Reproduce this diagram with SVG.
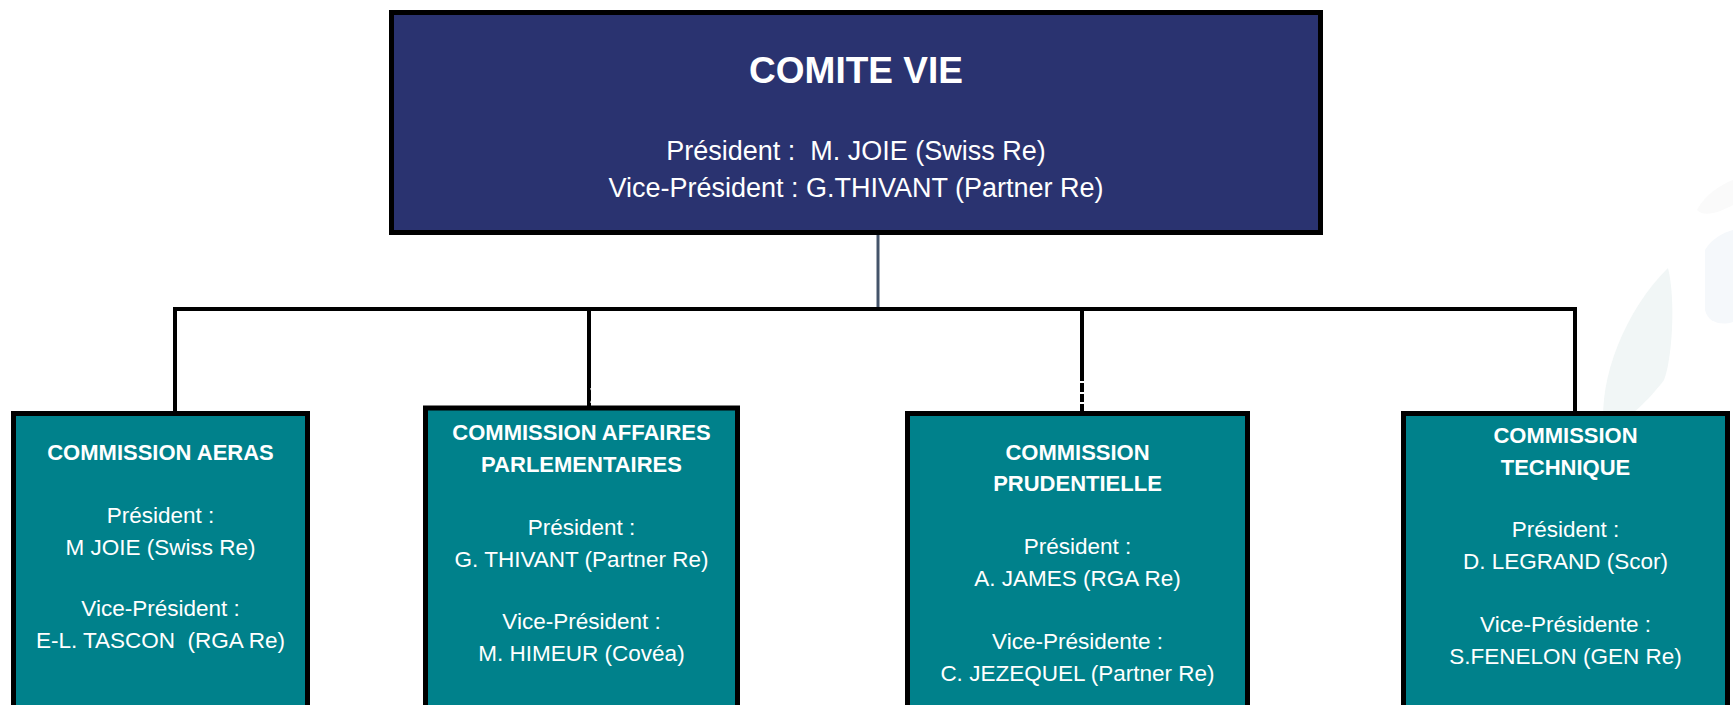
<svg xmlns="http://www.w3.org/2000/svg" width="1733" height="705" viewBox="0 0 1733 705">
<style>
.box{stroke:#000;stroke-width:5}
.top{fill:#2A3370}
.teal{fill:#00818B}
text{font-family:"Liberation Sans",Arial,sans-serif;fill:#fff;text-anchor:middle;white-space:pre}
.h1{font-size:37px;font-weight:bold}
.tb{font-size:27px}
.t{font-size:22px;font-weight:bold}
.b{font-size:22.5px}
.conn{fill:none;stroke:#000;stroke-width:4}
</style>
<rect width="1733" height="705" fill="#fff"/>
<g id="decor">
<path d="M1604 428 C1598 380 1625 310 1668 268 C1676 300 1672 360 1664 380 C1645 405 1622 425 1604 428 Z" fill="#F1F6F6"/>
<path d="M1705 250 C1712 238 1725 232 1733 230 L1733 322 C1720 326 1708 322 1705 310 Z" fill="#F5F8FB"/>
<path d="M1697 210 C1705 195 1720 185 1733 180 L1733 205 C1720 212 1705 218 1697 210 Z" fill="#FAFAFA"/>
</g>
<g id="connectors">
<line x1="878" y1="235" x2="878" y2="309" stroke="#44546A" stroke-width="3"/>
<path class="conn" d="M175 411 V309 H1575 V411"/>
<line class="conn" x1="589" y1="309" x2="589" y2="408"/>
<line class="conn" x1="1082" y1="309" x2="1082" y2="413"/>
<path d="M591 388 Q595 395 591 403" fill="none" stroke="#fff" stroke-width="2"/>
<path d="M1078 382 H1086 M1078 393 H1086 M1078 403 H1086" stroke="#fff" stroke-width="2"/>
</g>
<g id="comite-vie">
<rect class="box top" x="391.5" y="12.5" width="929" height="220"/>
<text class="h1" x="856" y="83">COMITE VIE</text>
<text class="tb" x="856" y="160">Président :  M. JOIE (Swiss Re)</text>
<text class="tb" x="856" y="197">Vice-Président : G.THIVANT (Partner Re)</text>
</g>
<g id="commission-aeras">
<rect class="box teal" x="13.5" y="413.5" width="294" height="320"/>
<text class="t" x="160.5" y="460">COMMISSION AERAS</text>
<text class="b" x="160.5" y="523">Président :</text>
<text class="b" x="160.5" y="555">M JOIE (Swiss Re)</text>
<text class="b" x="160.5" y="616">Vice-Président :</text>
<text class="b" x="160.5" y="648">E-L. TASCON  (RGA Re)</text>
</g>
<g id="commission-affaires-parlementaires">
<rect class="box teal" x="425.5" y="408" width="312" height="320"/>
<text class="t" x="581.5" y="440">COMMISSION AFFAIRES</text>
<text class="t" x="581.5" y="472">PARLEMENTAIRES</text>
<text class="b" x="581.5" y="535">Président :</text>
<text class="b" x="581.5" y="567">G. THIVANT (Partner Re)</text>
<text class="b" x="581.5" y="629">Vice-Président :</text>
<text class="b" x="581.5" y="661">M. HIMEUR (Covéa)</text>
</g>
<g id="commission-prudentielle">
<rect class="box teal" x="907.5" y="413.5" width="340" height="320"/>
<text class="t" x="1077.5" y="460">COMMISSION</text>
<text class="t" x="1077.5" y="491">PRUDENTIELLE</text>
<text class="b" x="1077.5" y="554">Président :</text>
<text class="b" x="1077.5" y="586">A. JAMES (RGA Re)</text>
<text class="b" x="1077.5" y="649">Vice-Présidente :</text>
<text class="b" x="1077.5" y="681">C. JEZEQUEL (Partner Re)</text>
</g>
<g id="commission-technique">
<rect class="box teal" x="1403.5" y="413.5" width="324" height="320"/>
<text class="t" x="1565.5" y="443">COMMISSION</text>
<text class="t" x="1565.5" y="475">TECHNIQUE</text>
<text class="b" x="1565.5" y="537">Président :</text>
<text class="b" x="1565.5" y="569">D. LEGRAND (Scor)</text>
<text class="b" x="1565.5" y="632">Vice-Présidente :</text>
<text class="b" x="1565.5" y="664">S.FENELON (GEN Re)</text>
</g>
</svg>
